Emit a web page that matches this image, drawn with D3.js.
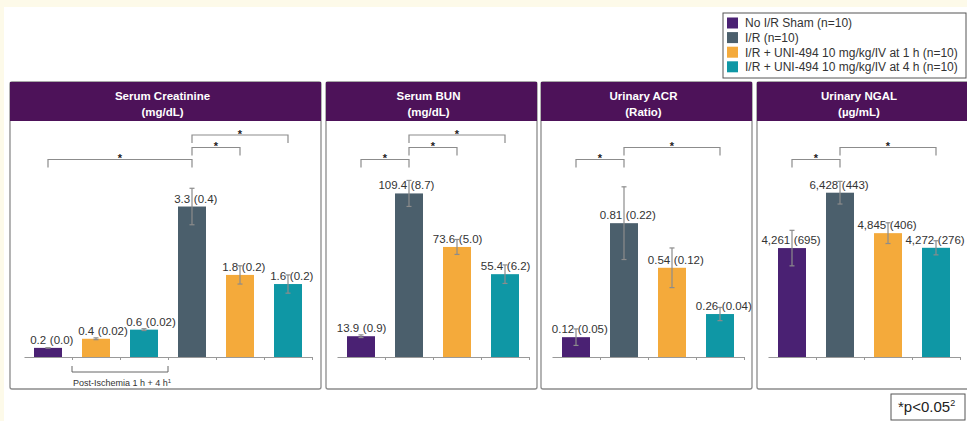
<!DOCTYPE html>
<html>
<head>
<meta charset="utf-8">
<script src="https://cdn.jsdelivr.net/npm/d3@7"></script>
<style>
  body { margin: 0; background: #fff; }
  svg { display: block; font-family: "Liberation Sans", Arial, sans-serif; }
</style>
</head>
<body>
<svg id="chart" width="967" height="421"></svg>
<script>
// groups shown in the legend
const groups = ["No I/R Sham (n=10)", "I/R (n=10)", "I/R + UNI-494 10 mg/kg/IV at 1 h (n=10)", "I/R + UNI-494 10 mg/kg/IV at 4 h (n=10)"];
const groupColors = ["#4a2173", "#4b5f6c", "#f4aa3b", "#0f97a5"];

const panelTitles = ["Serum Creatinine", "Serum BUN", "Urinary ACR", "Urinary NGAL"];
const panelUnits = ["(mg/dL)", "(mg/dL)", "(Ratio)", "(µg/mL)"];
const panelYMax = [5, 152.5, 1.38, 8920];

// Serum creatinine (6 bars, first three are post-ischemia 1 h + 4 h)
const creatGroup = [0, 2, 3, 1, 2, 3];
const creatMean = [0.2, 0.4, 0.6, 3.3, 1.8, 1.6];
const creatSD = [0.0, 0.02, 0.02, 0.4, 0.2, 0.2];
const creatLabel = ["0.2 (0.0)", "0.4 (0.02)", "0.6 (0.02)", "3.3 (0.4)", "1.8 (0.2)", "1.6 (0.2)"];
const creatSig = [[0, 3, 0], [3, 4, 1], [3, 5, 2]];

// Serum BUN
const bunGroup = [0, 1, 2, 3];
const bunMean = [13.9, 109.4, 73.6, 55.4];
const bunSD = [0.9, 8.7, 5.0, 6.2];
const bunLabel = ["13.9 (0.9)", "109.4 (8.7)", "73.6 (5.0)", "55.4 (6.2)"];
const bunSig = [[0, 1, 0], [1, 2, 1], [1, 3, 2]];

// Urinary ACR
const acrGroup = [0, 1, 2, 3];
const acrMean = [0.12, 0.81, 0.54, 0.26];
const acrSD = [0.05, 0.22, 0.12, 0.04];
const acrLabel = ["0.12 (0.05)", "0.81 (0.22)", "0.54 (0.12)", "0.26 (0.04)"];
const acrSig = [[0, 1, 0], [1, 3, 1]];

// Urinary NGAL
const ngalGroup = [0, 1, 2, 3];
const ngalMean = [4261, 6428, 4845, 4272];
const ngalSD = [695, 443, 406, 276];
const ngalLabel = ["4,261 (695)", "6,428 (443)", "4,845 (406)", "4,272 (276)"];
const ngalSig = [[0, 1, 0], [1, 3, 1]];

const panelData = [
  { group: creatGroup, mean: creatMean, sd: creatSD, label: creatLabel, sig: creatSig },
  { group: bunGroup, mean: bunMean, sd: bunSD, label: bunLabel, sig: bunSig },
  { group: acrGroup, mean: acrMean, sd: acrSD, label: acrLabel, sig: acrSig },
  { group: ngalGroup, mean: ngalMean, sd: ngalSD, label: ngalLabel, sig: ngalSig }
];

// layout
const panelBox = [[10, 321], [326, 537], [541, 752], [757, 975]];
const axisSpan = [[24, 312], [337, 529], [552, 744], [768, 960]];
const panelTop = 82, headerBottom = 121, panelBottom = 389;
const baseY = 357, plotTop = 129;
const sigLevelY = [159.5, 147.5, 135];

const svg = d3.select('#chart');
const textColor = '#333';
const gray = '#8c8c8c';

// cream frame at the top-left
svg.append('rect').attr('x', 0).attr('y', 0).attr('width', 967).attr('height', 7).attr('fill', '#fdfae9');
svg.append('rect').attr('x', 0).attr('y', 0).attr('width', 4).attr('height', 421).attr('fill', '#fdfae9');

panelData.forEach((p, i) => {
  const [x0, x1] = panelBox[i];
  const g = svg.append('g');

  // panel frame + header
  g.append('rect')
    .attr('x', x0).attr('y', panelTop)
    .attr('width', x1 - x0).attr('height', panelBottom - panelTop)
    .attr('rx', 2)
    .attr('fill', '#fff').attr('stroke', gray).attr('stroke-width', 1.3);
  g.append('rect')
    .attr('x', x0).attr('y', panelTop)
    .attr('width', x1 - x0).attr('height', headerBottom - panelTop)
    .attr('fill', '#4d1259');
  const cx = (x0 + Math.min(x1, 967)) / 2 - 3;
  g.append('text').attr('x', cx).attr('y', 100)
    .attr('text-anchor', 'middle').attr('fill', '#fff')
    .attr('font-size', 11.5).attr('font-weight', 'bold')
    .text(panelTitles[i]);
  g.append('text').attr('x', cx).attr('y', 116)
    .attr('text-anchor', 'middle').attr('fill', '#fff')
    .attr('font-size', 11.5).attr('font-weight', 'bold')
    .text(panelUnits[i]);

  const n = p.mean.length;
  const idx = d3.range(n);
  const x = d3.scaleBand().domain(idx).range(axisSpan[i]).paddingInner(0.417).paddingOuter(0.2085);
  const y = d3.scaleLinear().domain([0, panelYMax[i]]).range([baseY, plotTop]);
  const edge = d3.scaleLinear().domain([0, n]).range(axisSpan[i]);
  const mid = d => x(d) + x.bandwidth() / 2;

  // baseline with ticks at the category boundaries
  const axis = g.append('g')
    .attr('transform', `translate(0,${baseY})`)
    .call(d3.axisBottom(edge).tickValues(d3.range(1, n + 1)).tickFormat('').tickSizeInner(3).tickSizeOuter(0));
  axis.select('.domain').attr('stroke', '#999');
  axis.selectAll('.tick line').attr('stroke', '#999');

  // bars
  g.selectAll('.bar')
    .data(idx)
    .enter()
    .append('rect')
    .attr('x', d => x(d))
    .attr('y', d => y(p.mean[d]))
    .attr('width', x.bandwidth())
    .attr('height', d => baseY - y(p.mean[d]))
    .attr('fill', d => groupColors[p.group[d]]);

  // value labels: mean left of the error bar, (SD) right of it
  g.selectAll('.val')
    .data(idx)
    .enter()
    .append('text')
    .attr('x', d => mid(d) - 1.8)
    .attr('y', d => y(p.mean[d]) - 4)
    .attr('text-anchor', 'end')
    .attr('font-size', 11.5)
    .attr('fill', textColor)
    .text(d => p.label[d].split(' ')[0]);
  g.selectAll('.sd')
    .data(idx)
    .enter()
    .append('text')
    .attr('x', d => mid(d) + 1.8)
    .attr('y', d => y(p.mean[d]) - 4)
    .attr('font-size', 11.5)
    .attr('fill', textColor)
    .text(d => p.label[d].split(' ')[1]);

  // error bars (drawn over the labels)
  const eb = g.selectAll('.err').data(idx).enter().append('g').attr('stroke', gray).attr('stroke-width', 1.2);
  eb.append('line')
    .attr('x1', mid).attr('x2', mid)
    .attr('y1', d => y(p.mean[d] + p.sd[d])).attr('y2', d => y(p.mean[d] - p.sd[d]));
  eb.append('line')
    .attr('x1', d => mid(d) - 2.5).attr('x2', d => mid(d) + 2.5)
    .attr('y1', d => y(p.mean[d] + p.sd[d])).attr('y2', d => y(p.mean[d] + p.sd[d]));
  eb.append('line')
    .attr('x1', d => mid(d) - 2.5).attr('x2', d => mid(d) + 2.5)
    .attr('y1', d => y(p.mean[d] - p.sd[d])).attr('y2', d => y(p.mean[d] - p.sd[d]));

  // significance brackets
  p.sig.forEach(([a, b, lvl]) => {
    const xa = mid(a), xb = mid(b);
    const ly = sigLevelY[lvl];
    g.append('path')
      .attr('d', `M${xa},${ly + 8}V${ly}H${xb}V${ly + 8}`)
      .attr('fill', 'none').attr('stroke', gray).attr('stroke-width', 1.2);
    g.append('text')
      .attr('x', (xa + xb) / 2).attr('y', ly + 2.5)
      .attr('text-anchor', 'middle').attr('font-size', 11).attr('font-weight', 'bold')
      .attr('fill', '#222').text('*');
  });

  // post-ischemia bracket under creatinine bars 2-3
  if (i === 0) {
    const bx0 = edge(1), bx1 = edge(3);
    g.append('path')
      .attr('d', `M${bx0},366V372H${bx1}V366`)
      .attr('fill', 'none').attr('stroke', '#666').attr('stroke-width', 1);
    const t = g.append('text')
      .attr('x', bx0 + 1).attr('y', 386)
      .attr('font-size', 9).attr('fill', textColor)
      .text('Post-Ischemia 1 h + 4 h');
    t.append('tspan').attr('font-size', 6).attr('dy', -3).text('1');
  }
});

// legend
const lg = svg.append('g');
lg.append('rect').attr('x', 723).attr('y', 13).attr('width', 243).attr('height', 65)
  .attr('fill', '#fff').attr('stroke', '#555').attr('stroke-width', 1);
groups.forEach((name, k) => {
  const cy = 23 + k * 14.6;
  lg.append('rect').attr('x', 727).attr('y', cy - 5.5).attr('width', 11).attr('height', 11).attr('fill', groupColors[k]);
  lg.append('text').attr('x', 745).attr('y', cy + 4.3).attr('font-size', 12).attr('fill', textColor).text(name);
});

// p-value note
svg.append('rect').attr('x', 891).attr('y', 394).attr('width', 74).attr('height', 26)
  .attr('fill', '#fff').attr('stroke', '#555').attr('stroke-width', 1);
const pt = svg.append('text').attr('x', 898).attr('y', 412).attr('font-size', 15).attr('fill', '#222').text('*p<0.05');
pt.append('tspan').attr('font-size', 9).attr('dy', -6).text('2');
</script>
</body>
</html>
